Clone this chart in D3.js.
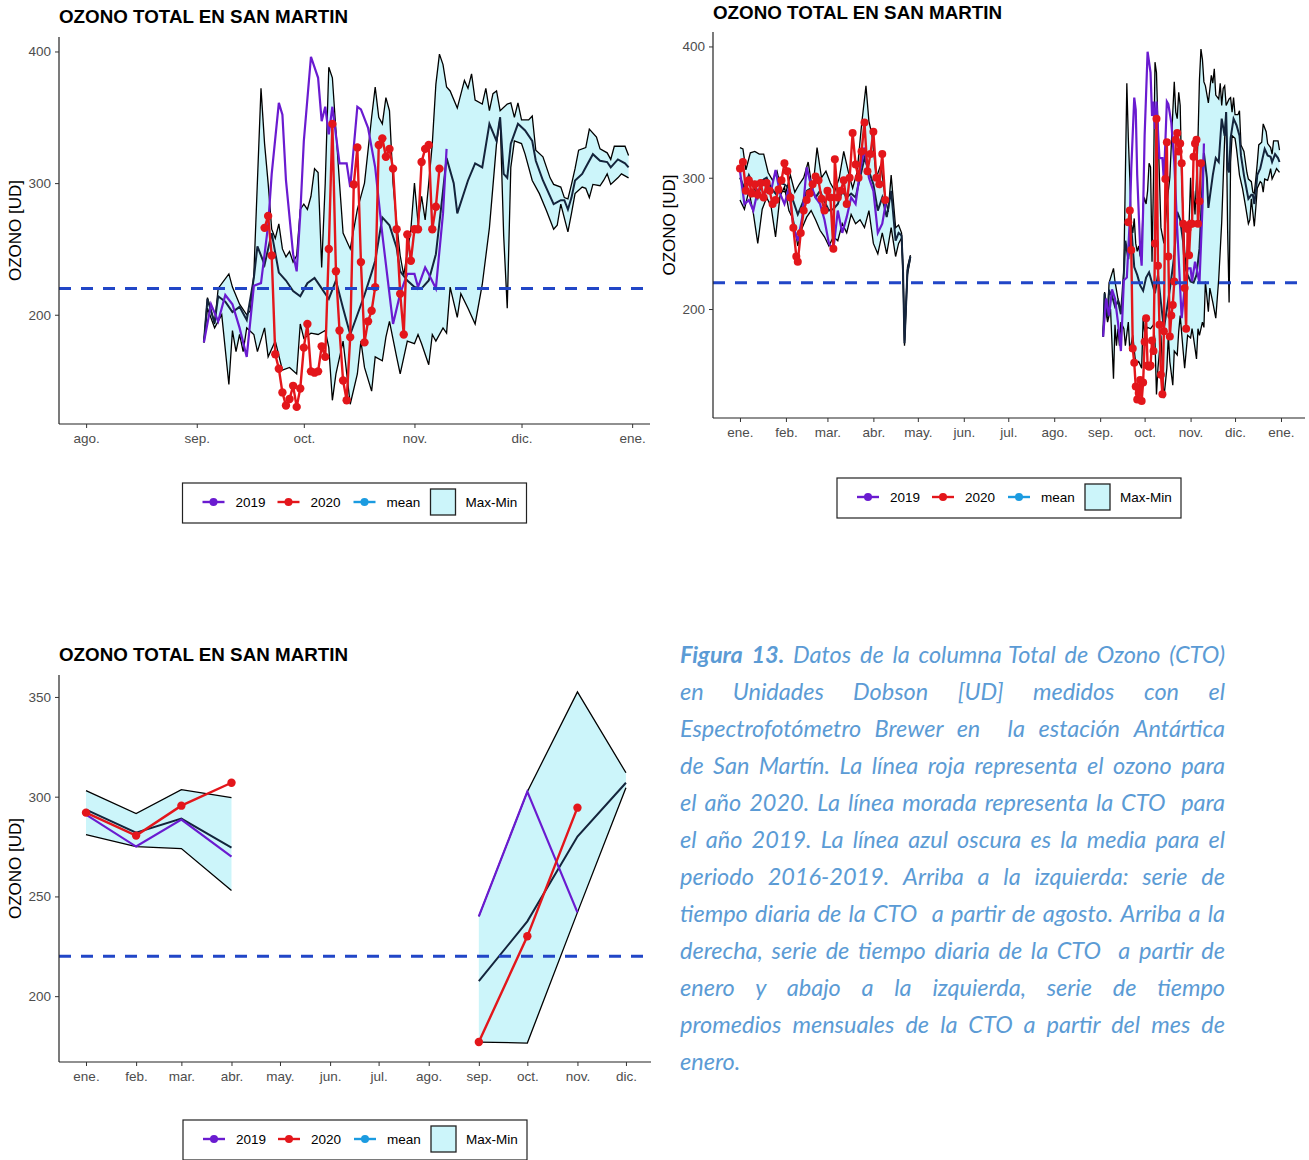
<!DOCTYPE html>
<meta charset="utf-8">
<style>
body { margin: 0; background: #fff; }
svg text { font-family: "Liberation Sans", Arial, sans-serif; }
.titulo { font-weight: bold; font-size: 18.8px; fill: #000; }
.ylab { font-size: 17px; fill: #000; }
.leg text { font-size: 13.5px; fill: #000; }
.caption text { font-family: Lato, "Open Sans", sans-serif; font-style: italic; font-size: 23.5px; fill: #5b9bd5; }
</style>
<body>
<svg width="1309" height="1160"></svg>
<script src="https://d3js.org/d3.v7.min.js"></script>
<script>

var mesesAbrev = ["ene.","feb.","mar.","abr.","may.","jun.","jul.","ago.","sep.","oct.","nov.","dic."];
var umbral = 220;

// serie diaria sep-dic (max, min, media 2016-2019)
var maxSD = [["09-03",179],["09-04",213],["09-06",193],["09-07",220],["09-10",231],["09-11",221],["09-13",208],["09-15",200],["09-16",203],["09-17",231],["09-19",372],["09-20",330],["09-21",300],["09-22",265],["09-23",258],["09-24",269],["09-25",250],["09-26",244],["09-27",248],["09-28",240],["09-29",245],["09-30",280],
 ["10-01",284],["10-02",280],["10-03",290],["10-04",311],["10-05",308],["10-06",236],["10-07",300],["10-08",388],["10-09",380],["10-10",340],["10-11",300],["10-12",262],["10-14",250],["10-16",280],["10-18",300],["10-20",350],["10-21",373],["10-22",350],["10-23",345],["10-24",365],["10-25",355],["10-26",300],["10-27",270],["10-28",245],["10-29",230],["10-31",265],
 ["11-01",300],["11-02",270],["11-03",290],["11-04",272],["11-05",300],["11-06",330],["11-07",375],["11-08",398],["11-09",390],["11-10",373],["11-11",370],["11-13",357],["11-15",378],["11-16",372],["11-17",383],["11-18",363],["11-20",360],["11-21",372],["11-22",355],["11-23",368],["11-24",370],["11-25",355],["11-27",360],["11-28",361],["11-29",350],["11-30",361],
 ["12-01",348],["12-03",348],["12-04",351],["12-05",325],["12-07",320],["12-09",304],["12-10",299],["12-12",297],["12-13",289],["12-14",288],["12-15",299],["12-16",311],["12-17",325],["12-19",327],["12-20",341],["12-22",335],["12-23",326],["12-25",323],["12-26",318],["12-27",328],["12-30",328],["12-31",321]];

var minSD = [["09-03",179],["09-04",205],["09-06",190],["09-08",200],["09-10",147],["09-11",188],["09-12",172],["09-13",185],["09-14",172],["09-15",190],["09-17",185],["09-18",172],["09-20",190],["09-21",168],["09-23",180],["09-25",158],["09-27",160],["09-29",155],["09-30",193],
 ["10-01",182],["10-03",186],["10-05",185],["10-07",188],["10-08",175],["10-09",135],["10-10",155],["10-12",180],["10-14",132],["10-16",155],["10-17",180],["10-18",160],["10-20",142],["10-21",168],["10-23",165],["10-24",183],["10-25",195],["10-27",168],["10-28",155],["10-30",180],
 ["11-01",178],["11-02",185],["11-03",178],["11-05",162],["11-06",185],["11-07",180],["11-09",190],["11-10",186],["11-11",221],["11-13",198],["11-14",216],["11-16",205],["11-18",193],["11-20",223],["11-22",266],["11-24",330],["11-25",350],["11-26",260],["11-27",205],["11-28",312],["11-29",332],
 ["12-01",330],["12-02",322],["12-04",302],["12-06",292],["12-08",279],["12-10",265],["12-11",268],["12-12",284],["12-14",263],["12-15",277],["12-16",292],["12-18",297],["12-19",296],["12-20",289],["12-21",299],["12-23",298],["12-24",302],["12-25",307],["12-26",299],["12-28",304],["12-29",307],["12-31",304]];

var meanSD = [["09-03",179],["09-04",212],["09-06",194],["09-07",214],["09-09",210],["09-11",202],["09-13",206],["09-15",196],["09-17",228],["09-18",252],["09-20",238],["09-22",262],["09-24",232],["09-26",226],["09-28",218],["09-30",214],
 ["10-02",224],["10-04",228],["10-06",220],["10-08",212],["10-10",226],["10-12",205],["10-14",185],["10-16",200],["10-18",215],["10-20",232],["10-21",241],["10-23",274],["10-25",268],["10-27",251],["10-28",233],["10-30",226],
 ["11-01",221],["11-03",220],["11-05",226],["11-07",246],["11-09",294],["11-10",319],["11-12",300],["11-13",277],["11-16",302],["11-18",315],["11-20",312],["11-22",345],["11-24",332],["11-25",350],["11-26",307],["11-27",304],["11-28",330],["11-30",345],
 ["12-02",340],["12-04",332],["12-05",317],["12-07",302],["12-10",284],["12-12",287],["12-13",287],["12-14",280],["12-15",289],["12-16",302],["12-18",307],["12-19",312],["12-21",322],["12-23",317],["12-25",316],["12-26",312],["12-28",318],["12-30",315],["12-31",312]];

var y2019SD = [["09-03",179],["09-05",208],["09-07",195],["09-09",215],["09-11",208],["09-13",190],["09-15",168],["09-17",222],["09-19",224],["09-21",268],["09-22",307],["09-24",361],["09-25",352],["09-26",302],["09-28",246],["09-29",233],["09-30",276],
 ["10-01",332],["10-03",396],["10-05",380],["10-06",347],["10-07",358],["10-08",337],["10-09",358],["10-11",315],["10-13",315],["10-14",297],["10-16",358],["10-17",356],["10-19",342],["10-21",312],["10-23",261],["10-26",193],["10-28",216],["10-30",231],
 ["11-01",231],["11-02",221],["11-04",236],["11-05",231],["11-07",220],["11-09",277],["11-10",326]];

// 2020 diario desde el 20 de septiembre
var inicio2020SD = "09-20";
var y2020SD = [266,275,245,170,159,141,131,136,146,130,144,
 175,193,157,156,157,176,168,250,345,233,188,150,135,183,299,327,240,179,195,203,221,329,334,320,326,311,265,216,185,261,241,
 265,265,316,326,329,265,282,311];

// serie diaria ene-abr
var maxEA = [["01-01",323],["01-03",322],["01-05",306],["01-08",319],["01-11",320],["01-14",318],["01-17",318],["01-20",304],["01-23",298],["01-26",305],["01-29",290],["02-01",289],["02-04",302],["02-07",289],["02-10",295],["02-13",300],["02-16",312],["02-19",290],["02-22",323],["02-25",300],["02-28",305],["03-03",296],["03-06",290],["03-09",300],["03-12",320],["03-15",305],["03-18",292],["03-21",304],["03-24",340],["03-27",370],["03-29",343],["03-31",333],["04-03",300],["04-06",310],["04-09",285],["04-11",274],["04-13",302],["04-16",262],["04-18",264],["04-20",258],["04-21",232],["04-22",176],["04-24",232],["04-26",241]];

var minEA = [["01-01",283],["01-04",276],["01-07",290],["01-10",273],["01-13",250],["01-16",276],["01-19",285],["01-22",278],["01-25",255],["01-28",286],["01-31",293],["02-03",275],["02-06",268],["02-09",248],["02-12",262],["02-15",270],["02-18",275],["02-21",268],["02-24",260],["02-27",255],["03-02",248],["03-05",255],["03-08",252],["03-11",265],["03-14",258],["03-17",272],["03-20",265],["03-23",268],["03-26",262],["03-29",275],["04-01",250],["04-04",242],["04-07",258],["04-10",242],["04-13",262],["04-16",240],["04-18",250],["04-20",254],["04-21",226],["04-22",172],["04-24",226],["04-26",239]];

var meanEA = [["01-01",300],["01-04",292],["01-07",302],["01-10",295],["01-13",285],["01-16",298],["01-19",300],["01-22",292],["01-25",288],["01-28",296],["01-31",295],["02-03",292],["02-06",282],["02-09",272],["02-12",280],["02-15",290],["02-18",292],["02-21",285],["02-24",290],["02-27",282],["03-02",275],["03-05",276],["03-08",280],["03-11",290],["03-14",285],["03-17",288],["03-20",285],["03-23",300],["03-26",315],["03-29",305],["04-01",295],["04-04",275],["04-07",285],["04-10",270],["04-13",290],["04-16",252],["04-18",258],["04-20",256],["04-21",229],["04-22",174],["04-24",229],["04-26",240]];

var y2019EA = [["01-01",305],["01-04",280],["01-07",283],["01-10",275],["01-13",290],["01-16",284],["01-19",292],["01-22",290],["01-25",306],["01-28",288],["01-31",280],["02-03",292],["02-06",263],["02-09",252],["02-12",270],["02-15",308],["02-18",294],["02-21",285],["02-24",280],["02-27",268],["03-02",250],["03-05",245],["03-08",275],["03-11",258],["03-14",270],["03-17",285],["03-20",280],["03-23",305],["03-26",323],["03-29",300],["04-01",290],["04-04",258],["04-07",265],["04-10",285]];

var y2020EA = [["01-01",307],["01-03",312],["01-05",290],["01-07",298],["01-09",288],["01-11",295],["01-13",287],["01-15",296],["01-17",285],["01-19",296],["01-21",290],["01-23",280],["01-25",283],["01-27",291],["01-29",298],["01-31",311],["02-02",305],["02-04",285],["02-06",262],["02-08",240],["02-09",236],["02-11",258],["02-13",275],["02-15",283],["02-17",288],["02-19",295],["02-21",301],["02-23",298],["02-25",284],["02-27",275],["03-01",290],["03-03",285],["03-05",246],["03-06",314],["03-08",285],["03-10",290],["03-12",298],["03-14",280],["03-16",300],["03-18",334],["03-20",310],["03-22",300],["03-24",320],["03-26",342],["03-28",305],["03-30",318],["04-01",335],["04-03",300],["04-05",295],["04-07",318],["04-09",283]];

// promedios mensuales
var mesesM = [1,2,3,4,9,10,11,12];
var maxM  = [303, 291.5, 303.5, 299.5, 240, 302.5, 352.5, 312];
var minM  = [281, 275, 274, 253, 177, 176.5, 242, 304.5];
var meanM = [293.5, 282, 289, 274.5, 207.5, 237.5, 280, 307];
var m2019 = [291, 275, 288.5, 270, 240, 302.5, 242, null];
var m2020 = [292, 280.5, 295.5, 307, 177, 230, 294.5, null];

var textoFigura = [
 "Figura 13. Datos de la columna Total de Ozono (CTO)",
 "en Unidades Dobson [UD] medidos con el",
 "Espectrofotómetro Brewer en  la estación Antártica",
 "de San Martín. La línea roja representa el ozono para",
 "el año 2020. La línea morada representa la CTO  para",
 "el año 2019. La línea azul oscura es la media para el",
 "periodo 2016-2019. Arriba a la izquierda: serie de",
 "tiempo diaria de la CTO  a partir de agosto. Arriba a la",
 "derecha, serie de tiempo diaria de la CTO  a partir de",
 "enero y abajo a la izquierda, serie de tiempo",
 "promedios mensuales de la CTO a partir del mes de",
 "enero."
];

var col2019 = "#6a1bd0", col2020 = "#e3161b", colMean = "#14243c", colMeanLeg = "#1b9be0",
    colBand = "#ccf5fa", colUmbral = "#2146c7";

var svg = d3.select("svg");
var DAY = 864e5;

function md(s, yr) { var p = s.split("-"); return new Date(yr, +p[0] - 1, +p[1]); }
function pares(arr, yr) { return arr.map(function(d) { return {date: md(d[0], yr), v: d[1]}; }); }

var sepdic = {
  max: pares(maxSD, 2001), min: pares(minSD, 2001), mean: pares(meanSD, 2001),
  s2019: pares(y2019SD, 2001),
  s2020: y2020SD.map(function(v, i) { return {date: d3.timeDay.offset(md(inicio2020SD, 2001), i), v: v}; })
};
var eneabr = {
  max: pares(maxEA, 2001), min: pares(minEA, 2001), mean: pares(meanEA, 2001),
  s2019: pares(y2019EA, 2001), s2020: pares(y2020EA, 2001)
};
function mens(arr) { return arr.map(function(v, i) { return {date: new Date(2001, mesesM[i] - 1, 1), v: v}; }).filter(function(d) { return d.v != null; }); }
var mensual = {
  max: mens(maxM).slice(0, 4), min: mens(minM).slice(0, 4), mean: mens(meanM).slice(0, 4),
  s2019: mens(m2019).slice(0, 4), s2020: mens(m2020).slice(0, 4)
};
var mensual2 = {
  max: mens(maxM).slice(4), min: mens(minM).slice(4), mean: mens(meanM).slice(4),
  s2019: mens(m2019).slice(4), s2020: mens(m2020).slice(4)
};

function panel(c) {
  var x = d3.scaleTime().domain(c.xDom).range([c.left, c.right]);
  var y = d3.scaleLinear().domain(c.yDom).range([c.bottom, c.top]);
  var g = svg.append("g");
  var line = d3.line().x(function(d) { return x(d.date); }).y(function(d) { return y(d.v); });

  g.append("text").attr("class", "titulo").attr("x", c.left).attr("y", c.titleY).text("OZONO TOTAL EN SAN MARTIN");

  c.segs.forEach(function(s) {
    var band = s.max.concat(s.min.slice().reverse());
    g.append("path").attr("d", line(band) + "Z").attr("fill", colBand).attr("stroke", "none");
    [s.max, s.min].forEach(function(a) {
      g.append("path").datum(a).attr("d", line).attr("fill", "none").attr("stroke", "#000").attr("stroke-width", 1.3);
    });
    g.append("path").datum(s.mean).attr("d", line).attr("fill", "none").attr("stroke", colMean).attr("stroke-width", 2);
    g.append("path").datum(s.s2019).attr("d", line).attr("fill", "none").attr("stroke", col2019).attr("stroke-width", 2.2);
    g.append("path").datum(s.s2020).attr("d", line).attr("fill", "none").attr("stroke", col2020).attr("stroke-width", 2.4);
    g.selectAll(null).data(s.s2020).enter().append("circle")
      .attr("cx", function(d) { return x(d.date); }).attr("cy", function(d) { return y(d.v); })
      .attr("r", c.r).attr("fill", col2020);
  });

  g.append("line").attr("x1", c.left).attr("x2", c.right).attr("y1", y(umbral)).attr("y2", y(umbral))
    .attr("stroke", colUmbral).attr("stroke-width", 3).attr("stroke-dasharray", "12,10");

  var xa = g.append("g").attr("transform", "translate(0," + c.bottom + ")")
    .call(d3.axisBottom(x).tickValues(c.xTicks).tickFormat(function(d) { return mesesAbrev[d.getMonth()]; })
      .tickSize(4).tickSizeOuter(0).tickPadding(5));
  var ya = g.append("g").attr("transform", "translate(" + c.left + ",0)")
    .call(d3.axisLeft(y).tickValues(c.yTicks).tickSize(4).tickSizeOuter(0).tickPadding(4));
  [xa, ya].forEach(function(a) {
    a.select(".domain").attr("stroke", "#222").attr("stroke-width", 1.2);
    a.selectAll(".tick line").attr("stroke", "#333");
    a.selectAll(".tick text").attr("fill", "#4d4d4d").attr("font-size", "13.5px").attr("font-family", "Liberation Sans, Arial, sans-serif");
  });
  ya.select(".domain").attr("d", "M0," + c.top + "V" + c.bottom);
  xa.select(".domain").attr("d", "M" + c.left + ",0H" + c.right);

  g.append("text").attr("class", "ylab").attr("text-anchor", "middle")
    .attr("transform", "translate(" + (c.left - 38) + "," + ((c.top + c.bottom) / 2) + ") rotate(-90)")
    .text("OZONO [UD]");

  leyenda((c.left + c.right) / 2 - 172, c.legY);
}

function leyenda(bx, by) {
  var g = svg.append("g").attr("class", "leg").attr("transform", "translate(" + bx + "," + by + ")");
  g.append("rect").attr("width", 344).attr("height", 40).attr("fill", "#fff").attr("stroke", "#222").attr("stroke-width", 1.2);
  var items = [{c: col2019, t: "2019", x: 20}, {c: col2020, t: "2020", x: 95}, {c: colMeanLeg, t: "mean", x: 171}];
  items.forEach(function(it) {
    g.append("line").attr("x1", it.x).attr("x2", it.x + 22).attr("y1", 19).attr("y2", 19).attr("stroke", it.c).attr("stroke-width", 2.4);
    g.append("circle").attr("cx", it.x + 11).attr("cy", 19).attr("r", 4).attr("fill", it.c);
    g.append("text").attr("x", it.x + 33).attr("y", 24).text(it.t);
  });
  g.append("rect").attr("x", 248).attr("y", 6).attr("width", 25).attr("height", 26).attr("fill", colBand).attr("stroke", "#222").attr("stroke-width", 1.3);
  g.append("text").attr("x", 283).attr("y", 24).text("Max-Min");
}

function mesesTicks(y0, m0, n) { return d3.range(n).map(function(i) { return new Date(y0, m0 + i, 1); }); }

panel({
  left: 59, right: 650, top: 37, bottom: 424, titleY: 23, legY: 483, r: 4.2,
  xDom: [new Date(+new Date(2001, 7, 1) - 7.6 * DAY), new Date(+new Date(2002, 0, 1) + 5 * DAY)],
  yDom: [117, 411], yTicks: [200, 300, 400], xTicks: mesesTicks(2001, 7, 6),
  segs: [sepdic]
});
panel({
  left: 713, right: 1305, top: 32, bottom: 418, titleY: 19, legY: 478, r: 4,
  xDom: [new Date(+new Date(2001, 0, 1) - 18.2 * DAY), new Date(+new Date(2002, 0, 1) + 16.2 * DAY)],
  yDom: [117, 411], yTicks: [200, 300, 400], xTicks: mesesTicks(2001, 0, 13),
  segs: [eneabr, sepdic]
});
panel({
  left: 59, right: 651, top: 675, bottom: 1062, titleY: 661, legY: 1120, r: 4.2,
  xDom: [new Date(+new Date(2001, 0, 1) - 16.7 * DAY), new Date(+new Date(2001, 11, 1) + 15.5 * DAY)],
  yDom: [167, 361], yTicks: [200, 250, 300, 350], xTicks: mesesTicks(2001, 0, 12),
  segs: [mensual, mensual2]
});

// texto de la figura, justificado por palabras
var cap = svg.append("g").attr("class", "caption");
textoFigura.forEach(function(linea, i) {
  var t = cap.append("text").attr("y", 663 + i * 37);
  var words = [], gaps = [], pend = 0;
  linea.split(" ").forEach(function(tk) {
    if (tk === "") { pend++; return; }
    if (words.length) gaps.push(1 + pend);
    pend = 0; words.push(tk);
  });
  var spans = words.map(function(w, j) {
    return t.append("tspan").attr("font-weight", (i === 0 && j < 2) ? "bold" : null).text(w);
  });
  var widths = spans.map(function(s) { return s.node().getComputedTextLength(); });
  var last = i === textoFigura.length - 1;
  var gap = last ? 5 : (545 - d3.sum(widths)) / d3.sum(gaps);
  var xx = 680;
  spans.forEach(function(s, j) {
    s.attr("x", xx);
    xx += widths[j] + (j < gaps.length ? gaps[j] * gap : 0);
  });
});

</script>
</body>
